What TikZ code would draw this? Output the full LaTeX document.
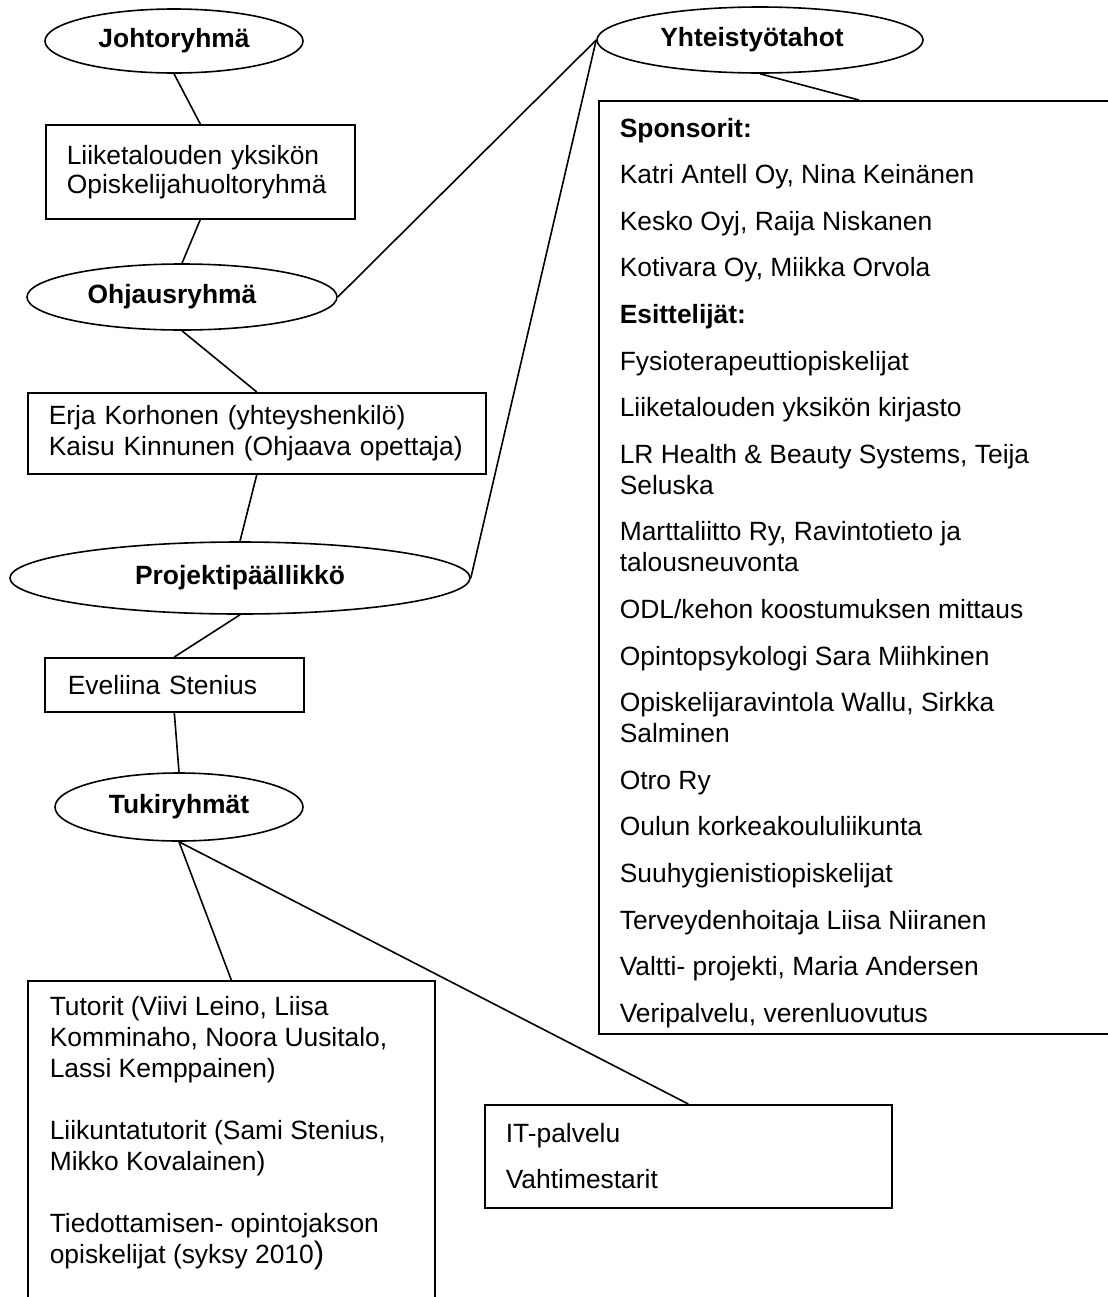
\documentclass[tikz,border=0pt]{standalone}
\usepackage{fontspec}
\setmainfont{Liberation Sans}
\usetikzlibrary{shapes.geometric}

\begin{document}
\begin{tikzpicture}[x=0.5pt,y=-0.5pt,line width=0.8pt,grp/.style={draw,ellipse,inner sep=0pt,font=\bfseries\fontsize{13.2pt}{15.5pt}\selectfont},box/.style={draw,rectangle,anchor=north west,align=left,inner ysep=0pt,font=\fontsize{13.2pt}{15.5pt}\selectfont}]
\useasboundingbox (0,0) rectangle (1108,1297); \clip (0,0) rectangle (1108,1297);
\node[grp,minimum width=129pt,minimum height=32pt](johto) at (174,41){Johtoryhmä};
\node[box,minimum height=47pt,inner xsep=10.5pt,text width=133.5pt,font=\fontsize{13.2pt}{14.5pt}\selectfont](luh) at (45,124){Liiketalouden yksikön\\Opiskelijahuoltoryhmä};
\node[grp,minimum width=155pt,minimum height=33pt](ohj) at (182,297){Ohjausryhmä\hspace*{10pt}};
\node[grp,minimum width=163pt,minimum height=33pt](yht) at (760,40){Yhteistyötahot\hspace*{8pt}};
\node[box,minimum height=40.5pt,inner xsep=10.5pt,text width=208pt](erja) at (27,392){Erja Korhonen (yhteyshenkilö)\\Kaisu Kinnunen (Ohjaava opettaja)};
\node[grp,minimum width=230pt,minimum height=36pt](pp) at (240,578){Projektipäällikkö};
\node[box,minimum height=27pt,inner xsep=11.5pt,text width=106.5pt](eve) at (44,657){Eveliina Stenius};
\node[grp,minimum width=124pt,minimum height=34pt](tuki) at (179,807){Tukiryhmät};
\node[box,inner xsep=10.5pt,inner ysep=8.6pt](yhtlist) at (598,100){\begin{minipage}[t][449.3pt][t]{256pt}\raggedright\textbf{Sponsorit:}\\[7.8pt]Katri Antell Oy, Nina Keinänen\\[7.8pt]Kesko Oyj, Raija Niskanen\\[7.8pt]Kotivara Oy, Miikka Orvola\\[7.8pt]\textbf{Esittelijät:}\\[7.8pt]Fysioterapeuttiopiskelijat\\[7.8pt]Liiketalouden yksikön kirjasto\\[7.8pt]LR Health \& Beauty Systems, Teija\\Seluska\\[7.8pt]Marttaliitto Ry, Ravintotieto ja\\talousneuvonta\\[7.8pt]ODL/kehon koostumuksen mittaus\\[7.8pt]Opintopsykologi Sara Miihkinen\\[7.8pt]Opiskelijaravintola Wallu, Sirkka\\Salminen\\[7.8pt]Otro Ry\\[7.8pt]Oulun korkeakoululiikunta\\[7.8pt]Suuhygienistiopiskelijat\\[7.8pt]Terveydenhoitaja Liisa Niiranen\\[7.8pt]Valtti- projekti, Maria Andersen\\[7.8pt]Veripalvelu, verenluovutus\end{minipage}};
\node[box,inner xsep=11pt,inner ysep=8pt](tut) at (27,980){\begin{minipage}[t][170pt][t]{181.5pt}\raggedright Tutorit (Viivi Leino, Liisa\\Komminaho, Noora Uusitalo,\\Lassi Kemppainen)\\[15.5pt]Liikuntatutorit (Sami Stenius,\\Mikko Kovalainen)\\[15.5pt]Tiedottamisen- opintojakson\\opiskelijat (syksy 2010{\fontsize{15.5pt}{15.5pt}\selectfont )}\end{minipage}};
\node[box,minimum height=51.5pt,inner xsep=10.5pt,text width=182.5pt](it) at (484,1104){IT-palvelu\\[7.5pt]Vahtimestarit};
\draw (johto.south)--(luh.north); \draw (luh.south)--(ohj.north); \draw (ohj.east)--(yht.west); \draw (ohj.south)--(erja.north);
\draw (erja.south)--(pp.north); \draw (pp.east)--(yht.west); \draw (yht.south)--([xshift=130.5pt]yhtlist.north west);
\draw (pp.south)--(eve.north); \draw (eve.south)--(tuki.north); \draw (tuki.south)--(tut.north); \draw (tuki.south)--(it.north);
\end{tikzpicture}
\end{document}
